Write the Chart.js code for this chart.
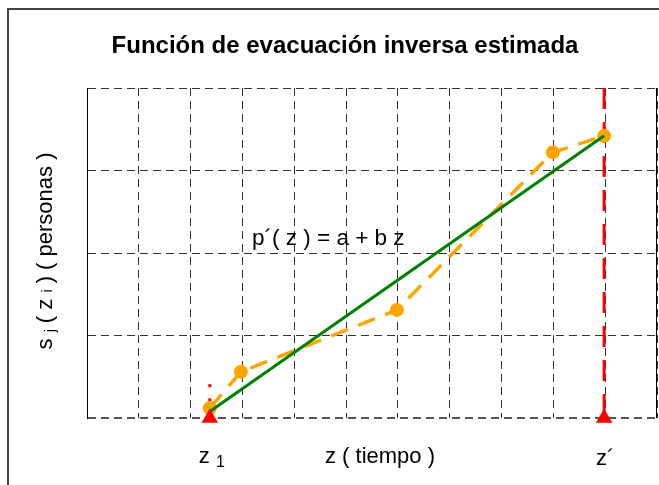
<!DOCTYPE html>
<html>
<head>
<meta charset="utf-8">
<script src="https://cdn.jsdelivr.net/npm/chart.js@4.4.0/dist/chart.umd.min.js"></script>
<style>
  html, body { margin: 0; padding: 0; background: #fff; }
  .wrap { width: 659px; height: 485px; position: relative; }
</style>
</head>
<body>
<div class="wrap"><canvas class="chart"></canvas></div>
<script>
// observed evacuation points (z, s)
const zObserved = [2.37, 2.97, 5.98, 8.99, 9.98];
const sObserved = [0.12, 0.56, 1.31, 3.22, 3.42];
// fitted line p'(z) = a + b z
const zFit = [2.37, 9.98];
const sFit = [0.08, 3.42];
// marked instants z1 and z'
const zMarks = [2.37, 9.98];
const z1Guide = [0.41, 0];
const zPrimeGuide = [4, 0];
// axis ranges
const zRange = [0, 11];
const sRange = [0, 4];

const font = "'Liberation Sans', Arial, sans-serif";
const ctx = document.querySelector(".chart");

function richText(c, parts, x, y) {
  let w = 0;
  parts.forEach(p => { c.font = p[1] + "px " + font; w += c.measureText(p[0]).width; });
  let cx = x - w / 2;
  parts.forEach(p => {
    c.font = p[1] + "px " + font;
    c.fillText(p[0], cx, y + p[2]);
    cx += c.measureText(p[0]).width;
  });
}

const decor = {
  id: "decor",
  beforeDraw(chart) {
    const c = chart.ctx;
    c.save();
    c.fillStyle = "#fff";
    c.fillRect(0, 0, chart.width, chart.height);
    c.restore();
  },
  afterDraw(chart) {
    const c = chart.ctx;
    const a = chart.chartArea;
    const xs = chart.scales.x;
    c.save();
    // outer frame
    c.strokeStyle = "#444";
    c.lineWidth = 2;
    c.beginPath();
    c.moveTo(8, 485);
    c.lineTo(8, 9);
    c.lineTo(659, 9);
    c.stroke();
    // right edge of plot
    c.strokeStyle = "#000";
    c.lineWidth = 1;
    c.beginPath();
    c.moveTo(a.right - 0.5, a.top);
    c.lineTo(a.right - 0.5, a.bottom);
    c.stroke();

    c.fillStyle = "#000";
    c.textBaseline = "alphabetic";
    c.textAlign = "center";
    c.font = "bold 24px " + font;
    c.fillText("Función de evacuación inversa estimada", 345, 53);

    c.textAlign = "left";
    c.font = "22.5px " + font;
    c.fillText("p´( z ) = a + b z", 252, 245);

    richText(c, [["z ", 22, 0], ["1", 16, 4]], xs.getPixelForValue(zMarks[0]) + 2, 463);
    richText(c, [["z ( tiempo )", 22, 0]], 380, 463);
    richText(c, [["z´", 22, 0]], xs.getPixelForValue(zMarks[1]) + 1, 465);

    c.translate(52, 251);
    c.rotate(-Math.PI / 2);
    richText(c, [["s ", 22, 0], ["j", 14, 3], [" ( z ", 22, 0], ["i", 14, 0], [" ) ( personas )", 22, 0]], 0, 0);
    c.restore();
  }
};

const gridDash = [8, 5];

new Chart(ctx, {
  type: "scatter",
  data: {
    datasets: [
      {
        label: "marks",
        data: zMarks.map(z => ({ x: z, y: 0 })),
        pointStyle: "triangle",
        pointRadius: 9.5,
        backgroundColor: "#ff0000",
        borderWidth: 0,
        clip: false,
      },
      {
        label: "fit",
        data: zFit.map((z, i) => ({ x: z, y: sFit[i] })),
        showLine: true,
        borderColor: "#008000",
        borderWidth: 3,
        pointRadius: 0,
      },
      {
        label: "observed",
        data: zObserved.map((z, i) => ({ x: z, y: sObserved[i] })),
        showLine: true,
        borderColor: "#ffa500",
        borderWidth: 3.5,
        borderDash: [18, 11],
        pointRadius: 7,
        pointBackgroundColor: "#ffa500",
        pointBorderWidth: 0,
      },
      {
        label: "z1 guide",
        data: z1Guide.map(s => ({ x: zMarks[0], y: s })),
        showLine: true,
        borderColor: "#ff0000",
        borderWidth: 3,
        borderDash: [3, 11],
        pointRadius: 0,
      },
      {
        label: "z' guide",
        data: zPrimeGuide.map(s => ({ x: zMarks[1], y: s })),
        showLine: true,
        borderColor: "#ff0000",
        borderWidth: 3,
        borderDash: [21, 13],
        pointRadius: 0,
      },
    ],
  },
  options: {
    responsive: true,
    maintainAspectRatio: false,
    animation: false,
    layout: { autoPadding: false, padding: { left: 87, top: 88, right: 2, bottom: 67 } },
    scales: {
      x: {
        type: "linear",
        min: zRange[0],
        max: zRange[1],
        ticks: { display: false, stepSize: 1 },
        grid: { color: "#333", lineWidth: 1, drawTicks: false },
        border: { display: false, dash: gridDash },
      },
      y: {
        type: "linear",
        min: sRange[0],
        max: sRange[1],
        ticks: { display: false, stepSize: 1 },
        grid: {
          color: (c) => (c.tick && c.tick.value === 0 ? "#555" : "#333"),
          lineWidth: (c) => (c.tick && c.tick.value === 0 ? 2 : 1),
          drawTicks: false,
        },
        border: { display: true, color: "#000", width: 1, dash: gridDash },
      },
    },
    plugins: {
      legend: { display: false },
      tooltip: { enabled: false },
    },
  },
  plugins: [decor],
});
</script>
</body>
</html>
